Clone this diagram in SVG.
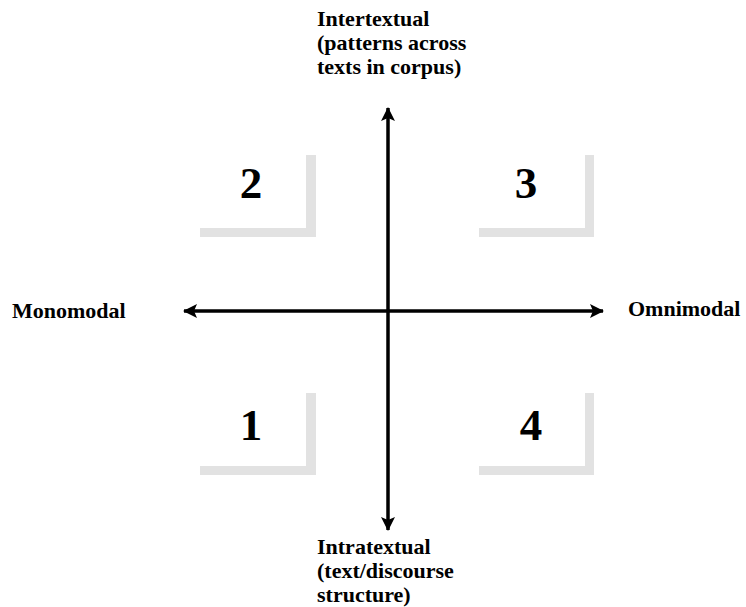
<svg xmlns="http://www.w3.org/2000/svg" width="746" height="607" viewBox="0 0 746 607">
<style>
.lbl{font-family:"Liberation Serif","Times New Roman",serif;font-weight:bold;font-size:22px;fill:#000}
.num{font-family:"Liberation Serif","Times New Roman",serif;font-weight:bold;font-size:45px;fill:#000;text-anchor:middle}
.corner{fill:#e2e2e2}
.axis{stroke:#000;stroke-width:3.5;fill:none;marker-end:url(#ah)}
</style>
<defs>
<marker id="ah" markerUnits="userSpaceOnUse" viewBox="0 0 14 14" refX="13" refY="7" markerWidth="14" markerHeight="14" orient="auto">
<path d="M0,0 L14,7 L0,14 L3,7 Z" fill="#000"/>
</marker>
</defs>
<rect width="746" height="607" fill="#fff"/>
<g id="connectors">
<line class="axis" x1="388" y1="311" x2="388" y2="108"/>
<line class="axis" x1="388" y1="311" x2="388" y2="530"/>
<line class="axis" x1="388" y1="311" x2="184" y2="311"/>
<line class="axis" x1="388" y1="311" x2="603" y2="311"/>
</g>
<g id="label-top">
<text class="lbl" x="317" y="26">Intertextual</text>
<text class="lbl" x="317" y="50">(patterns across</text>
<text class="lbl" x="317" y="74">texts in corpus)</text>
</g>
<g id="label-bottom">
<text class="lbl" x="317" y="554">Intratextual</text>
<text class="lbl" x="317" y="578">(text/discourse</text>
<text class="lbl" x="317" y="602">structure)</text>
</g>
<g id="label-left"><text class="lbl" x="12" y="318">Monomodal</text></g>
<g id="label-right"><text class="lbl" x="628" y="316">Omnimodal</text></g>
<g id="q2">
<path class="corner" d="M306,155 H316 V237 H200 V228 H306 Z"/>
<text class="num" x="251" y="198">2</text>
</g>
<g id="q3">
<path class="corner" d="M585,155 H594 V237 H479 V228 H585 Z"/>
<text class="num" x="526" y="198">3</text>
</g>
<g id="q1">
<path class="corner" d="M306,393 H316 V475 H200 V466 H306 Z"/>
<text class="num" x="251" y="440">1</text>
</g>
<g id="q4">
<path class="corner" d="M585,393 H594 V475 H479 V466 H585 Z"/>
<text class="num" x="531" y="440">4</text>
</g>
</svg>
